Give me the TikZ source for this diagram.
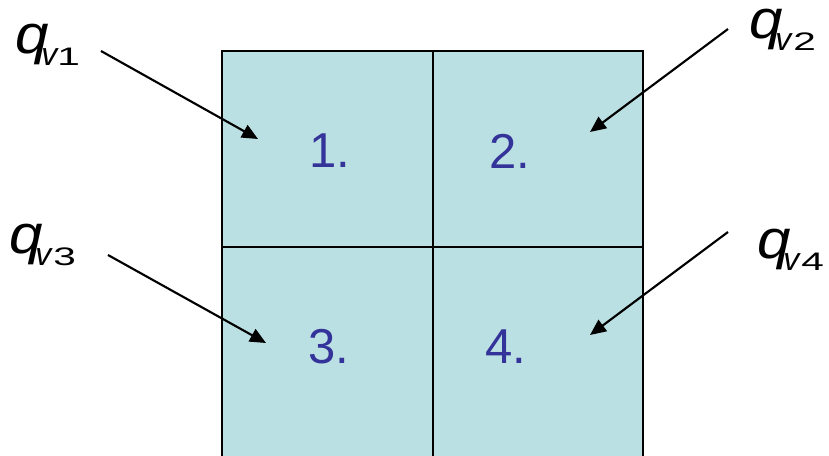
\documentclass[tikz,border=0pt]{standalone}
\usepackage{fontspec}
\setmainfont{Liberation Sans}
\usetikzlibrary{arrows.meta}
\definecolor{cellfill}{HTML}{BBE0E3}
\definecolor{numcol}{HTML}{333399}
\newcommand{\qlab}[2]{\scalebox{1.1}[1]{\fontsize{41pt}{41pt}\selectfont\itshape q}\hspace{-5.5pt}\raisebox{-8.8pt}{\fontsize{24pt}{24pt}\selectfont\itshape v\hspace{#2}\upshape\scalebox{1.6}[1]{\fontsize{19pt}{19pt}\selectfont #1}}}
\tikzset{
  cell/.style={draw=black, line width=1.1pt, fill=cellfill},
  num/.style={text=numcol, font=\fontsize{36.75pt}{36.75pt}\selectfont, inner sep=0pt},
  qnode/.style={anchor=base west, inner sep=0pt},
  arr/.style={line width=1.6pt, -{Triangle[length=12pt,width=10.5pt]}}
}
\begin{document}
\begin{tikzpicture}[x=0.75pt,y=-0.75pt]
\clip (0,0) rectangle (829,456);
\fill[white] (0,0) rectangle (829,456);
% cells
\draw[cell] (222,51) rectangle (433,247);
\draw[cell] (433,51) rectangle (643,247);
\draw[cell] (222,247) rectangle (433,470);
\draw[cell] (433,247) rectangle (643,470);
% numbers
\node[num] (n1) at (330,151) {1.};
\node[num] (n2) at (510,151) {2.};
\node[num] (n3) at (329,347) {3.};
\node[num] (n4) at (506,347) {4.};
% labels
\node[qnode] (q1) at (15,53.5) {\qlab{1}{0pt}};
\node[qnode] (q2) at (749,39) {\qlab{2}{1.5pt}};
\node[qnode] (q3) at (9,253.5) {\qlab{3}{1.5pt}};
\node[qnode] (q4) at (757,258.5) {\qlab{4}{1.5pt}};
% arrow ends
\coordinate (s1) at (101,51);  \coordinate (t1) at (258,139);
\coordinate (s2) at (728,29);  \coordinate (t2) at (590,132);
\coordinate (s3) at (108,255); \coordinate (t3) at (266,343);
\coordinate (s4) at (728,232); \coordinate (t4) at (590,335);
\draw[arr] (s1) -- (t1);
\draw[arr] (s2) -- (t2);
\draw[arr] (s3) -- (t3);
\draw[arr] (s4) -- (t4);
\end{tikzpicture}
\end{document}
